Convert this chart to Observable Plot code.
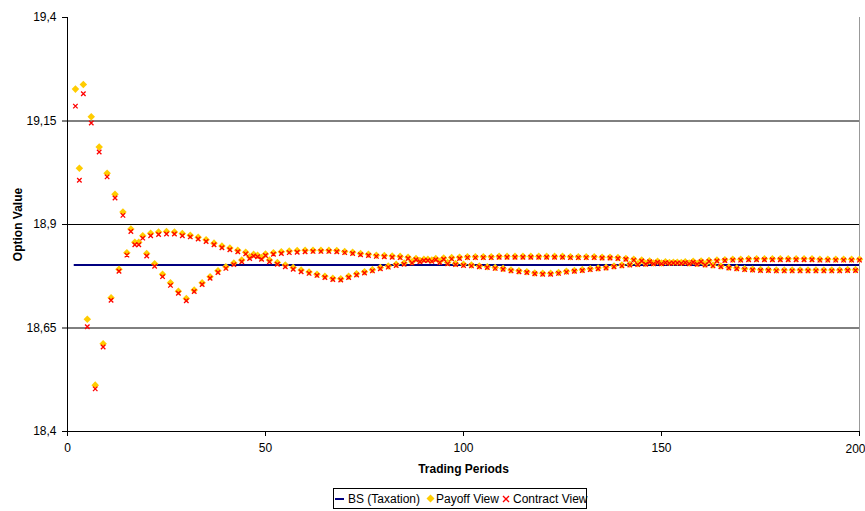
<!DOCTYPE html>
<html>
<head>
<meta charset="utf-8">
<script src="https://cdn.jsdelivr.net/npm/d3@7"></script>
<script src="https://cdn.jsdelivr.net/npm/@observablehq/plot@0.6"></script>
<style>
  html, body { margin: 0; padding: 0; background: #fff; }
  #wrap { position: relative; width: 865px; height: 511px; font-family: "Liberation Sans", Arial, sans-serif; }
  #legend { position: absolute; left: 333px; top: 488px; width: 254px; height: 21px; border: 1px solid #000; box-sizing: border-box; background: #fff; font-size: 12px; color: #000; }
  #legend span.t { position: absolute; top: 3px; white-space: nowrap; }
  #legend svg { position: absolute; }
</style>
</head>
<body>
<div id="wrap"><div id="chart"></div><div id="legend"></div></div>
<script>
// ---- data ----
const xTicks = [0, 50, 100, 150, 200];
const yTicks = [18.4, 18.65, 18.9, 19.15, 19.4];
const gridValues = [18.65, 18.9, 19.15];
const bsValue = 18.802;           // BS (Taxation)
const bsPeriods = [1.7, 200];
const firstPeriod = 2, lastPeriod = 200;
const periods = d3.range(firstPeriod, lastPeriod + 1);

const payoffView = [
  19.227, 19.036, 19.238, 18.671, 19.160, 18.512, 19.087, 18.612, 19.024, 18.723,
  18.973, 18.792, 18.930, 18.832, 18.889, 18.857, 18.857, 18.873, 18.830, 18.879,
  18.805, 18.882, 18.780, 18.883, 18.759, 18.882, 18.739, 18.878, 18.721, 18.874,
  18.742, 18.869, 18.759, 18.863, 18.774, 18.855, 18.788, 18.848, 18.798, 18.843,
  18.807, 18.838, 18.814, 18.833, 18.822, 18.828, 18.826, 18.820, 18.829, 18.814,
  18.832, 18.808, 18.834, 18.802, 18.836, 18.796, 18.837, 18.790, 18.838, 18.785,
  18.838, 18.780, 18.838, 18.775, 18.838, 18.770, 18.837, 18.769, 18.835, 18.775,
  18.833, 18.781, 18.830, 18.786, 18.828, 18.791, 18.826, 18.796, 18.825, 18.800,
  18.824, 18.804, 18.823, 18.807, 18.821, 18.810, 18.818, 18.813, 18.816, 18.816,
  18.814, 18.818, 18.811, 18.819, 18.808, 18.820, 18.806, 18.821, 18.804, 18.822,
  18.802, 18.822, 18.800, 18.822, 18.798, 18.822, 18.796, 18.823, 18.794, 18.823,
  18.790, 18.823, 18.788, 18.823, 18.786, 18.823, 18.783, 18.823, 18.782, 18.823,
  18.782, 18.823, 18.784, 18.823, 18.787, 18.822, 18.789, 18.822, 18.791, 18.822,
  18.793, 18.822, 18.795, 18.821, 18.797, 18.821, 18.800, 18.820, 18.802, 18.818,
  18.804, 18.816, 18.805, 18.814, 18.806, 18.812, 18.807, 18.811, 18.807, 18.810,
  18.808, 18.809, 18.809, 18.808, 18.810, 18.807, 18.811, 18.806, 18.812, 18.804,
  18.813, 18.802, 18.814, 18.800, 18.815, 18.797, 18.816, 18.795, 18.816, 18.793,
  18.817, 18.792, 18.817, 18.791, 18.817, 18.791, 18.817, 18.790, 18.817, 18.790,
  18.817, 18.790, 18.817, 18.790, 18.817, 18.790, 18.817, 18.790, 18.816, 18.790,
  18.816, 18.790, 18.816, 18.790, 18.816, 18.791, 18.816, 18.791, 18.816
];

const contractView = [
  19.186, 19.007, 19.216, 18.653, 19.145, 18.503, 19.075, 18.604, 19.015, 18.717,
  18.964, 18.787, 18.922, 18.826, 18.883, 18.851, 18.851, 18.867, 18.824, 18.873,
  18.799, 18.876, 18.774, 18.877, 18.753, 18.877, 18.734, 18.873, 18.716, 18.870,
  18.738, 18.865, 18.755, 18.859, 18.770, 18.851, 18.784, 18.844, 18.794, 18.839,
  18.803, 18.834, 18.810, 18.829, 18.818, 18.824, 18.822, 18.816, 18.825, 18.810,
  18.828, 18.804, 18.830, 18.798, 18.832, 18.792, 18.833, 18.786, 18.834, 18.782,
  18.835, 18.777, 18.835, 18.772, 18.835, 18.767, 18.834, 18.766, 18.832, 18.772,
  18.830, 18.778, 18.827, 18.783, 18.825, 18.788, 18.823, 18.793, 18.822, 18.797,
  18.821, 18.801, 18.820, 18.804, 18.818, 18.807, 18.815, 18.810, 18.813, 18.813,
  18.811, 18.815, 18.808, 18.816, 18.805, 18.817, 18.803, 18.818, 18.801, 18.820,
  18.800, 18.820, 18.798, 18.820, 18.796, 18.820, 18.794, 18.821, 18.792, 18.821,
  18.788, 18.821, 18.786, 18.821, 18.784, 18.821, 18.781, 18.821, 18.780, 18.821,
  18.780, 18.821, 18.782, 18.821, 18.785, 18.820, 18.787, 18.820, 18.789, 18.820,
  18.791, 18.820, 18.793, 18.819, 18.795, 18.819, 18.798, 18.818, 18.800, 18.816,
  18.802, 18.814, 18.803, 18.812, 18.804, 18.810, 18.805, 18.809, 18.805, 18.808,
  18.806, 18.807, 18.807, 18.806, 18.808, 18.805, 18.809, 18.804, 18.810, 18.802,
  18.811, 18.800, 18.812, 18.798, 18.813, 18.795, 18.814, 18.793, 18.814, 18.791,
  18.815, 18.790, 18.815, 18.789, 18.815, 18.789, 18.815, 18.788, 18.815, 18.788,
  18.815, 18.788, 18.815, 18.788, 18.815, 18.788, 18.815, 18.788, 18.814, 18.788,
  18.814, 18.788, 18.814, 18.788, 18.814, 18.789, 18.814, 18.789, 18.814
];

const seriesNames = ["BS (Taxation)", "Payoff View", "Contract View"];
const colors = { bs: "#000080", payoff: "#FFCC00", contract: "#FF0000" };

// ---- build ----
const rows = periods.map((n, i) => ({ n, payoff: payoffView[i], contract: contractView[i] }));
const fmt = d => String(d).replace(".", ",");
const lastTick = xTicks[xTicks.length - 1];

// Excel-like diamond (square rotated 45°)
const excelDiamond = {
  draw(ctx, size) {
    const h = Math.sqrt(size / 2);
    ctx.moveTo(0, -h); ctx.lineTo(h, 0); ctx.lineTo(0, h); ctx.lineTo(-h, 0); ctx.closePath();
  }
};
const excelX = {
  draw(ctx, size) {
    const h = Math.sqrt(size) * 0.55;
    ctx.moveTo(-h, -h); ctx.lineTo(h, h);
    ctx.moveTo(h, -h); ctx.lineTo(-h, h);
  }
};

const chart = Plot.plot({
  width: 865,
  height: 480,
  marginLeft: 67,
  marginRight: 6,
  marginTop: 17,
  marginBottom: 49,
  style: { fontFamily: "'Liberation Sans', Arial, sans-serif", fontSize: "12px", color: "#000", background: "#fff" },
  x: { domain: [0, 200] },
  y: { domain: [18.4, 19.4] },
  marks: [
    Plot.ruleY(gridValues, { stroke: "#000", strokeWidth: 1 }),
    Plot.ruleX([200], { stroke: "#999", strokeWidth: 1 }),
    Plot.axisX({ ticks: xTicks, tickSize: 5, tickPadding: 7, label: null, tickFormat: d => (d === lastTick ? "" : String(d)), fontSize: 12 }),
    Plot.text([lastTick], { x: d => d, text: d => String(d), frameAnchor: "bottom", dy: 18, dx: -4, lineAnchor: "middle", fontSize: 12 }),
    Plot.axisY({ ticks: yTicks, tickSize: 5, tickPadding: 6, label: null, tickFormat: fmt, fontSize: 12 }),
    Plot.ruleX([0], { stroke: "#000" }),
    Plot.ruleY([18.4], { stroke: "#000" }),
    Plot.ruleY([bsValue], { x1: bsPeriods[0], x2: bsPeriods[1], stroke: colors.bs, strokeWidth: 2 }),
    Plot.dot(rows, { x: "n", y: "payoff", symbol: excelDiamond, r: 3, fill: colors.payoff, stroke: "none" }),
    Plot.dot(rows, { x: "n", y: "contract", symbol: excelX, r: 2.3, stroke: colors.contract, strokeWidth: 1.3, fill: "none" }),
    Plot.text(["Trading Periods"], { text: d => d, frameAnchor: "bottom", dy: 38, lineAnchor: "middle", textAnchor: "middle", fontWeight: "bold", fontSize: 12 }),
    Plot.text(["Option Value"], { text: d => d, frameAnchor: "left", dx: -49, rotate: -90, textAnchor: "middle", lineAnchor: "middle", fontWeight: "bold", fontSize: 12 })
  ]
});
document.getElementById("chart").appendChild(chart);

// ---- legend (below the SVG) ----
const legend = document.getElementById("legend");
legend.innerHTML = `
  <svg style="left:1px;top:7px" width="10" height="6"><line x1="0" x2="9" y1="3" y2="3" stroke="${colors.bs}" stroke-width="2"/></svg>
  <span class="t" style="left:14px">${seriesNames[0]}</span>
  <svg style="left:92px;top:5px" width="9" height="9"><path d="M4.5,0.5L8.5,4.5L4.5,8.5L0.5,4.5Z" fill="${colors.payoff}"/></svg>
  <span class="t" style="left:102px">${seriesNames[1]}</span>
  <svg style="left:168px;top:6px" width="8" height="8"><path d="M1,1L7,7M7,1L1,7" stroke="${colors.contract}" stroke-width="1.4"/></svg>
  <span class="t" style="left:179px">${seriesNames[2]}</span>
`;
</script>
</body>
</html>
